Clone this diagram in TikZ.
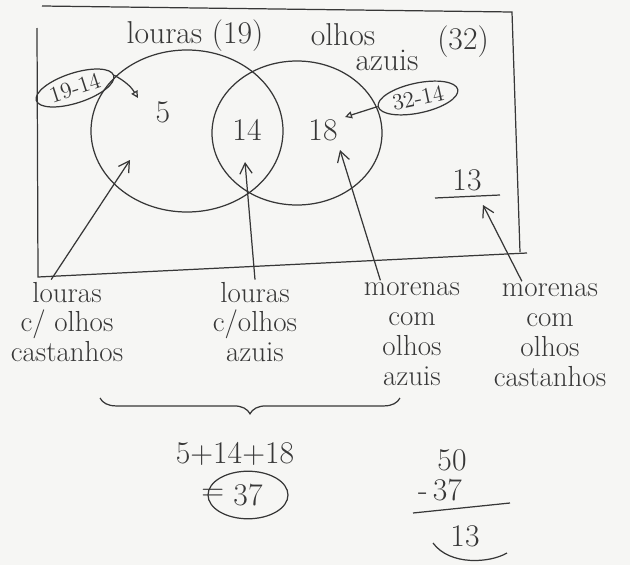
\documentclass[tikz,border=0pt]{standalone}
\usetikzlibrary{arrows.meta,shapes.geometric,decorations.pathreplacing}
\definecolor{pencil}{RGB}{55,55,55}
\definecolor{paper}{RGB}{246,246,244}
\begin{document}
\begin{tikzpicture}[x=0.02cm, y=-0.02cm, pencil, line width=0.7pt,
  every node/.style={font=\fontsize{18}{18}\selectfont, text=pencil},
  seta/.style={-{Straight Barb[length=6pt,width=7pt]}},
  setinha/.style={-{Triangle[open,length=4pt,width=4pt]}},
  legenda/.style={align=center, inner sep=1pt, font=\fontsize{16.5}{17}\selectfont},
  conta/.style={draw, ellipse, inner sep=1.5pt, font=\fontsize{13}{13}\selectfont}]
  \fill[paper] (0,0) rectangle (630,565);
  \useasboundingbox (0,0) rectangle (630,565);
  % quadro e conjuntos
  \draw (42,6) -- (512,12) -- (520,252);
  \draw (37,28) -- (38,277) -- (527,253);
  \draw (187,131) ellipse [x radius=96, y radius=81];
  \draw (297,133) ellipse [x radius=85, y radius=72];
  \node (louras) at (195,36) {louras (19)};
  \node[inner sep=0pt] (olhos) at (343,35) {olhos};
  \node[inner sep=0pt] (azuis) at (387,60) {azuis};
  \node (n32) at (463,42) {(32)};
  \node (cinco) at (163,112) {5};
  \node (catorze) at (247,130) {14};
  \node (dezoito) at (323,130) {18};
  \node (fora) at (467,180) {13};
  \draw (435,198) -- (500,195);
  \node[conta, rotate=18] (c1) at (75,88) {19-14};
  \node[conta, rotate=12] (c2) at (418,98) {32-14};
  \coordinate (p5) at (138,98);
  \coordinate (p18) at (345,117);
  \draw[setinha] (c1.east) to[bend left=15] (p5);
  \draw[setinha] (c2.west) -- (p18);
  % legendas
  \node[legenda] (lcast) at (67,322) {louras\\c/ olhos\\castanhos};
  \node[legenda] (lazul) at (255,322) {louras\\c/olhos\\azuis};
  \node[legenda] (mazul) at (412,334) {morenas\\com\\olhos\\azuis};
  \node[legenda] (mcast) at (550,335) {morenas\\com\\olhos\\castanhos};
  \coordinate (q5) at (130,160);
  \coordinate (q14) at (245,162);
  \coordinate (q18) at (340,150);
  \coordinate (q13) at (483,205);
  \draw[seta] ([xshift=-9pt]lcast.north) -- (q5);
  \draw[seta] (lazul.north) -- (q14);
  \draw[seta] ([xshift=-18pt]mazul.north) -- (q18);
  \draw[seta] ([xshift=-16pt]mcast.north) -- (q13);
  % contas
  \coordinate (b1) at (400,398);
  \coordinate (b2) at (100,398);
  \draw[decorate, decoration={brace, amplitude=9pt}] (b1) -- (b2);
  \node (soma) at (235,454) {5+14+18};
  \node[draw, ellipse, minimum width=1.6cm, minimum height=0.9cm] (total) at (248,495) {37};
  \node (igual) at ([xshift=3pt]total.west) {=};
  \node (cinquenta) at (452,460) {50};
  \node (menos) at (440,490) {-\,37};
  \draw (413,513) -- (510,503);
  \node (resto) at (465,536) {13};
  \draw (433,543) .. controls (450,566) and (490,563) .. (507,553);
\end{tikzpicture}
\end{document}
